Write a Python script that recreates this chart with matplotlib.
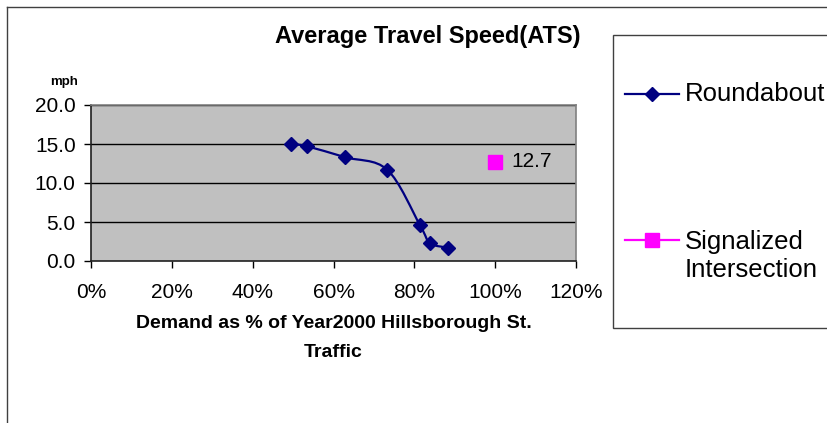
import matplotlib
matplotlib.use("Agg")
import matplotlib.pyplot as plt
import numpy as np
from matplotlib.path import Path
from matplotlib.patches import PathPatch, Rectangle
from matplotlib.lines import Line2D
from matplotlib.ticker import FuncFormatter

plt.rcParams['font.family'] = ['Liberation Sans', 'DejaVu Sans']

# Roundabout: demand (% of year 2000 traffic) vs average travel speed (mph)
round_demand = [49.5, 53.5, 62.9, 73.3, 81.4, 83.9, 88.4]
round_speed = [15.0, 14.7, 13.3, 11.7, 4.6, 2.3, 1.7]

# Signalized intersection, single point
sig_demand = [100.0]
sig_speed = [12.7]

x_ticks = [0, 20, 40, 60, 80, 100, 120]
y_ticks = [0, 5, 10, 15, 20]

navy = '#000080'
magenta = '#FF00FF'


def smooth_path(xs, ys):
    # Excel style smoothed line: cubic bezier, control points from neighbours
    pts = np.column_stack([xs, ys]).astype(float)
    n = len(pts)
    verts = [pts[0]]
    codes = [Path.MOVETO]
    for i in range(n - 1):
        p0 = pts[i - 1] if i > 0 else pts[i]
        p1 = pts[i]
        p2 = pts[i + 1]
        p3 = pts[i + 2] if i + 2 < n else pts[i + 1]
        c1 = p1 + (p2 - p0) / 6.0
        c2 = p2 - (p3 - p1) / 6.0
        verts += [c1, c2, p2]
        codes += [Path.CURVE4] * 3
    return Path(verts, codes)


fig = plt.figure(figsize=(8.27, 4.23), dpi=100)
ax = fig.add_axes([91 / 827, 1 - 261 / 423, 485 / 827, 156 / 423])
ax.set_facecolor('#C0C0C0')

ax.set_xlim(0, 120)
ax.set_ylim(0, 20)
ax.set_xticks(x_ticks)
ax.set_yticks(y_ticks)
ax.xaxis.set_major_formatter(FuncFormatter(lambda v, p: '%d%%' % v))
ax.yaxis.set_major_formatter(FuncFormatter(lambda v, p: '%.1f' % v))
ax.tick_params(axis='both', direction='out', length=5, width=1, labelsize=15, colors='black')
ax.tick_params(axis='x', pad=11)
ax.tick_params(axis='y', pad=6)

for y in y_ticks[1:]:
    ax.axhline(y, color='black', lw=1, zorder=1)

ax.spines['left'].set_color('#202020')
ax.spines['bottom'].set_color('#202020')
ax.spines['top'].set_color('#808080')
ax.spines['right'].set_color('#808080')
for s in ax.spines.values():
    s.set_linewidth(1.2)

ax.add_patch(PathPatch(smooth_path(round_demand, round_speed), facecolor='none',
                       edgecolor=navy, lw=1.6, zorder=3))
ax.plot(round_demand, round_speed, linestyle='none', marker='D', markersize=6.8,
        color=navy, zorder=4, clip_on=False)
ax.plot(sig_demand, sig_speed, linestyle='none', marker='s', markersize=10,
        color=magenta, zorder=4)
for xv, yv in zip(sig_demand, sig_speed):
    ax.annotate('%.1f' % yv, (xv, yv), xytext=(12, 0), textcoords='offset points',
                va='center', ha='left', fontsize=15)

ax.set_xlabel('Demand as % of Year2000 Hillsborough St.\nTraffic', fontsize=14,
              fontweight='bold', linespacing=1.95, labelpad=9)

fig.text(428 / 827, 1 - 37 / 423, 'Average Travel Speed(ATS)', ha='center', va='center',
         fontsize=17, fontweight='bold')
fig.text(64 / 827, 1 - 82 / 423, 'mph', ha='center', va='center', fontsize=9.5,
         fontweight='bold')

# outer chart frame (only left and top edges are inside the picture)
fig.add_artist(Line2D([7 / 827, 7 / 827], [0, 1 - 7 / 423], transform=fig.transFigure,
                      color='#404040', lw=1))
fig.add_artist(Line2D([7 / 827, 1], [1 - 7 / 423, 1 - 7 / 423], transform=fig.transFigure,
                      color='#404040', lw=1))

# legend box drawn by hand to match the wide spacing
fig.add_artist(Rectangle((613 / 827, 1 - 328 / 423), 0.3, 293 / 423, transform=fig.transFigure,
                         facecolor='white', edgecolor='#404040', lw=1))
fig.add_artist(Line2D([625 / 827, 679 / 827], [1 - 94 / 423] * 2, transform=fig.transFigure,
                      color=navy, lw=1.6))
fig.add_artist(Line2D([652 / 827], [1 - 94 / 423], transform=fig.transFigure, color=navy,
                      marker='D', markersize=6.8, linestyle='none'))
fig.text(685 / 827, 1 - 94 / 423, 'Roundabout', ha='left', va='center', fontsize=18.5)
fig.add_artist(Line2D([625 / 827, 679 / 827], [1 - 240 / 423] * 2, transform=fig.transFigure,
                      color=magenta, lw=1.6))
fig.add_artist(Line2D([652 / 827], [1 - 240 / 423], transform=fig.transFigure, color=magenta,
                      marker='s', markersize=10, linestyle='none'))
fig.text(685 / 827, 1 - 256 / 423, 'Signalized\nIntersection', ha='left', va='center',
         fontsize=18.5, linespacing=1.25)

fig.savefig('out.png', dpi=100)
